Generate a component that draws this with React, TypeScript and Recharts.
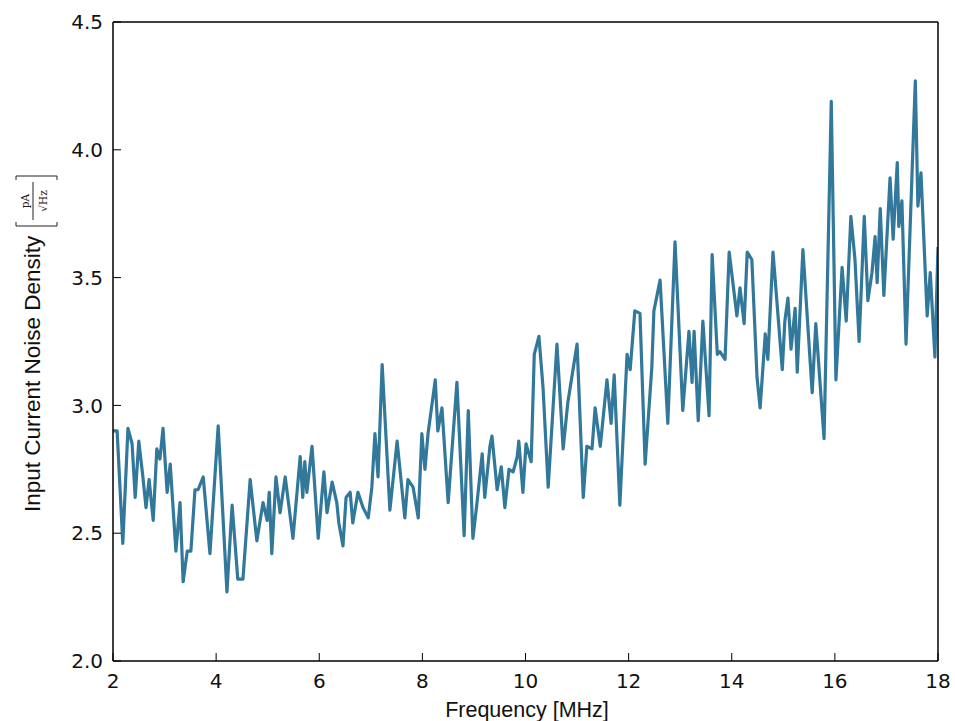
import React from 'react';
import { LineChart, Line, XAxis, YAxis } from 'recharts';

// frequency in MHz
const freqs = [
  2.0, 2.08, 2.19, 2.29, 2.37, 2.43, 2.5, 2.58, 2.64, 2.7, 2.78, 2.85, 2.91, 2.97, 3.05, 3.11,
  3.22, 3.3, 3.36, 3.44, 3.51, 3.59, 3.65, 3.75, 3.88, 4.04, 4.21, 4.31, 4.42, 4.52, 4.66, 4.79,
  4.91, 4.99, 5.03, 5.08, 5.16, 5.24, 5.34, 5.49, 5.63, 5.68, 5.72, 5.76, 5.86, 5.98, 6.09, 6.15,
  6.25, 6.34, 6.38, 6.46, 6.52, 6.6, 6.65, 6.75, 6.85, 6.95, 7.02, 7.08, 7.14, 7.22, 7.37, 7.51,
  7.66, 7.72, 7.82, 7.92, 7.99, 8.05, 8.11, 8.25, 8.3, 8.38, 8.5, 8.67, 8.81, 8.89, 8.98, 9.06,
  9.16, 9.21, 9.31, 9.35, 9.45, 9.53, 9.6, 9.68, 9.76, 9.84, 9.87, 9.95, 10.01, 10.11, 10.17, 10.26,
  10.34, 10.44, 10.61, 10.73, 10.82, 11.0, 11.12, 11.19, 11.29, 11.35, 11.45, 11.58, 11.66, 11.72, 11.83, 11.97,
  12.03, 12.12, 12.22, 12.32, 12.45, 12.49, 12.61, 12.76, 12.9, 13.05, 13.17, 13.23, 13.27, 13.35, 13.44, 13.56,
  13.62, 13.72, 13.77, 13.87, 13.95, 14.1, 14.16, 14.24, 14.3, 14.39, 14.49, 14.55, 14.65, 14.7, 14.8, 14.98,
  15.03, 15.09, 15.15, 15.23, 15.27, 15.38, 15.56, 15.63, 15.79, 15.93, 16.02, 16.14, 16.22, 16.31, 16.39, 16.47,
  16.57, 16.64, 16.72, 16.78, 16.82, 16.88, 16.95, 17.07, 17.13, 17.21, 17.24, 17.3, 17.38, 17.56, 17.61, 17.67,
  17.79, 17.85, 17.94, 18.0,
];

// input current noise density in pA/sqrt(Hz)
const noise = [
  2.9, 2.9, 2.46, 2.91, 2.85, 2.64, 2.86, 2.72, 2.6, 2.71, 2.55, 2.83, 2.79, 2.91, 2.66, 2.77,
  2.43, 2.62, 2.31, 2.43, 2.43, 2.67, 2.67, 2.72, 2.42, 2.92, 2.27, 2.61, 2.32, 2.32, 2.71, 2.47,
  2.62, 2.55, 2.66, 2.42, 2.72, 2.58, 2.72, 2.48, 2.8, 2.64, 2.78, 2.66, 2.84, 2.48, 2.74, 2.58,
  2.7, 2.62, 2.54, 2.45, 2.64, 2.66, 2.54, 2.66, 2.6, 2.56, 2.68, 2.89, 2.72, 3.16, 2.59, 2.86,
  2.56, 2.71, 2.68, 2.56, 2.89, 2.75, 2.89, 3.1, 2.9, 2.99, 2.62, 3.09, 2.49, 2.98, 2.48, 2.62,
  2.81, 2.64, 2.84, 2.88, 2.67, 2.76, 2.6, 2.75, 2.74, 2.8, 2.86, 2.66, 2.85, 2.78, 3.2, 3.27,
  3.07, 2.68, 3.24, 2.83, 3.01, 3.24, 2.64, 2.84, 2.83, 2.99, 2.84, 3.1, 2.93, 3.12, 2.61, 3.2,
  3.14, 3.37, 3.36, 2.77, 3.15, 3.37, 3.49, 2.93, 3.64, 2.98, 3.29, 3.09, 3.29, 2.94, 3.33, 2.96,
  3.59, 3.2, 3.21, 3.18, 3.6, 3.35, 3.46, 3.32, 3.6, 3.57, 3.11, 2.99, 3.28, 3.18, 3.6, 3.14,
  3.33, 3.42, 3.22, 3.38, 3.13, 3.61, 3.05, 3.32, 2.87, 4.19, 3.1, 3.54, 3.33, 3.74, 3.57, 3.25,
  3.74, 3.41, 3.52, 3.66, 3.48, 3.77, 3.43, 3.89, 3.65, 3.95, 3.7, 3.8, 3.24, 4.27, 3.78, 3.91,
  3.35, 3.52, 3.19, 3.62,
];

const xTicks = [2, 4, 6, 8, 10, 12, 14, 16, 18];
const yTicks = [2.0, 2.5, 3.0, 3.5, 4.0, 4.5];

const data = freqs.map((f, i) => ({ f, v: noise[i] }));

const tickFont = { fontFamily: 'DejaVu Sans', fontSize: 20, fill: '#111' };
const labelFont = 'Liberation Sans';

const XLabel = () => (
  <text x={527} y={717} textAnchor="middle" fontFamily={labelFont} fontSize={21.5} fill="#111">
    Frequency [MHz]
  </text>
);

const YLabel = () => (
  <g transform="translate(40, 512) rotate(-90)">
    <text x={0} y={0} fontFamily={labelFont} fontSize={22.5} fill="#111">
      Input Current Noise Density
    </text>
    {/* [ pA / sqrt(Hz) ] */}
    <path d="M290,-24 L286,-24 L286,17 L290,17" stroke="#222" strokeWidth={1} fill="none" />
    <path d="M332,-24 L336,-24 L336,17 L332,17" stroke="#222" strokeWidth={1} fill="none" />
    <text x={311} y={-11} textAnchor="middle" fontFamily="DejaVu Serif" fontSize={10.5} fill="#222">
      pA
    </text>
    <line x1={292} x2={330} y1={-7} y2={-7} stroke="#222" strokeWidth={1} />
    <text x={311} y={7} textAnchor="middle" fontFamily="DejaVu Serif" fontSize={10.5} fill="#222">
      √Hz
    </text>
  </g>
);

export default function App() {
  return (
    <div style={{ position: 'absolute', left: 0, top: 0, width: 955, height: 721, background: '#fff' }}>
      <LineChart width={955} height={721} data={data} margin={{ top: 21, right: 16, bottom: 0, left: 0 }}>
        <XAxis
          xAxisId="b"
          dataKey="f"
          type="number"
          domain={[2, 18]}
          ticks={xTicks}
          allowDataOverflow
          height={60}
          tickSize={-8}
          tickMargin={21}
          tick={tickFont}
          axisLine={{ stroke: '#000', strokeWidth: 1.5 }}
          tickLine={{ stroke: '#000' }}
          label={{ content: XLabel }}
        />
        <XAxis
          xAxisId="t"
          orientation="top"
          dataKey="f"
          type="number"
          domain={[2, 18]}
          ticks={xTicks}
          allowDataOverflow
          height={1}
          tickSize={-8}
          tick={false}
          axisLine={{ stroke: '#000', strokeWidth: 1.5 }}
          tickLine={{ stroke: '#000' }}
        />
        <YAxis
          yAxisId="l"
          type="number"
          domain={[2, 4.5]}
          ticks={yTicks}
          allowDataOverflow
          width={113}
          tickSize={-8}
          tickMargin={18}
          tick={tickFont}
          tickFormatter={(v: number) => v.toFixed(1)}
          axisLine={{ stroke: '#000', strokeWidth: 1.5 }}
          tickLine={{ stroke: '#000' }}
          label={{ content: YLabel }}
        />
        <YAxis
          yAxisId="r"
          orientation="right"
          type="number"
          domain={[2, 4.5]}
          ticks={yTicks}
          allowDataOverflow
          width={1}
          tickSize={-8}
          tick={false}
          axisLine={{ stroke: '#000', strokeWidth: 1.5 }}
          tickLine={{ stroke: '#000' }}
        />
        <Line
          xAxisId="b"
          yAxisId="l"
          dataKey="v"
          type="linear"
          stroke="#31789a"
          strokeWidth={3.2}
          strokeLinejoin="round"
          dot={false}
          isAnimationActive={false}
        />
      </LineChart>
    </div>
  );
}
